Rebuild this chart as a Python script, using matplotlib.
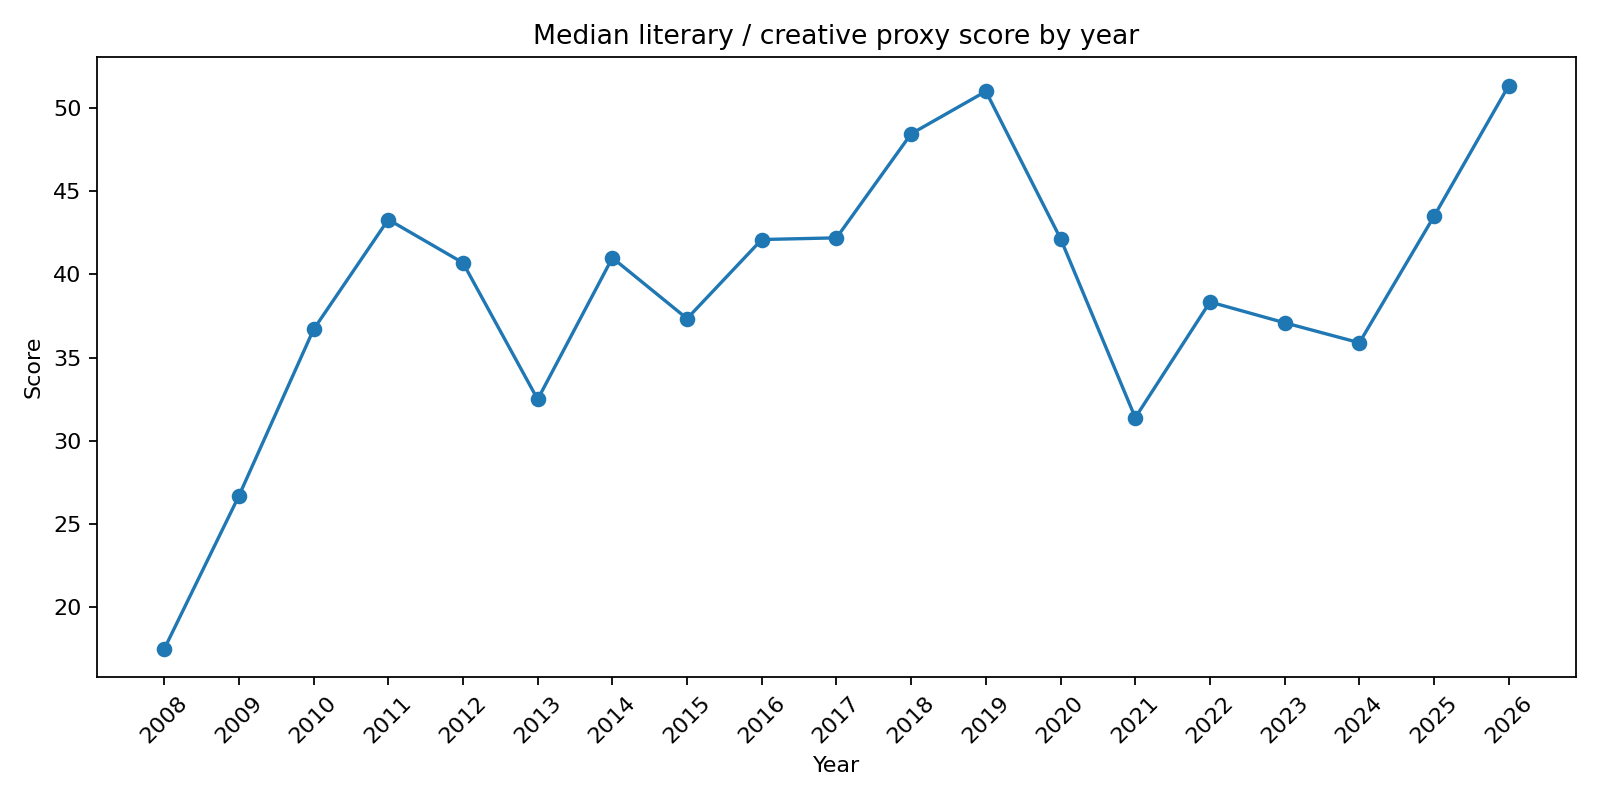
import numpy as np
import matplotlib
matplotlib.use("Agg")
import matplotlib.pyplot as plt

# Data
years = [2008, 2009, 2010, 2011, 2012, 2013, 2014, 2015, 2016, 2017,
         2018, 2019, 2020, 2021, 2022, 2023, 2024, 2025, 2026]
scores = [17.5, 26.7, 36.7, 43.3, 40.7, 32.5, 41.0, 37.35, 42.1, 42.2,
          48.45, 51.0, 42.15, 31.4, 38.35, 37.1, 35.9, 43.5, 51.35]

fig, ax = plt.subplots(figsize=(10, 5), dpi=160)
ax.plot(years, scores, marker='o', color='#1f77b4')
ax.set_title('Median literary / creative proxy score by year')
ax.set_xlabel('Year')
ax.set_ylabel('Score')
ax.set_xticks(years)
ax.set_xticklabels([str(y) for y in years], rotation=45)
fig.tight_layout()
fig.savefig('out.png')
